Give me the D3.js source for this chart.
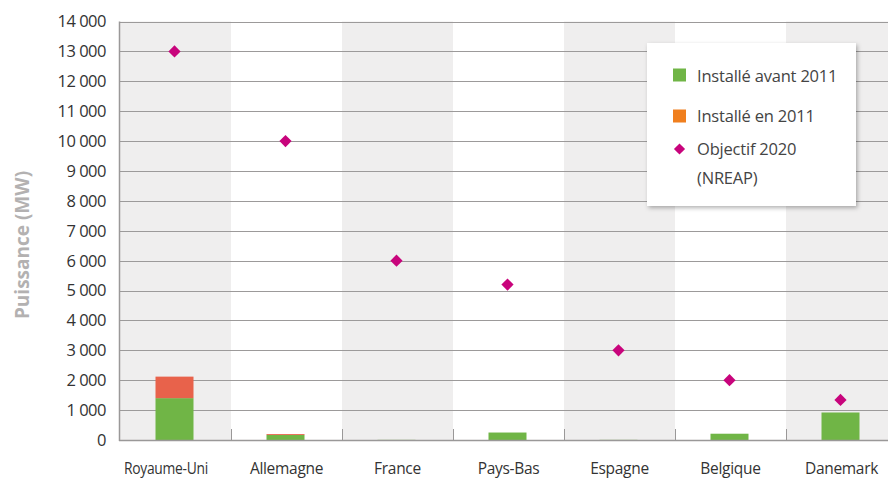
<!DOCTYPE html>
<html>
<head>
<meta charset="utf-8">
<script src="https://cdn.jsdelivr.net/npm/d3@7"></script>
<style>
  html, body { margin: 0; padding: 0; background: #fff; }
  svg { display: block; }
  text { font-family: "Open Sans", "DejaVu Sans", sans-serif; }
</style>
</head>
<body>
<svg id="chart" width="888" height="478"></svg>
<script>
// Offshore wind capacity by country (MW)
const countries = ["Royaume-Uni", "Allemagne", "France", "Pays-Bas", "Espagne", "Belgique", "Danemark"];
const installedBefore2011 = [1400, 170, 5, 250, 5, 210, 920];
const installedIn2011 = [720, 30, 0, 0, 0, 0, 0];
const target2020 = [13000, 10000, 6000, 5200, 3000, 2000, 1340];
const yTicks = [0, 1000, 2000, 3000, 4000, 5000, 6000, 7000, 8000, 9000, 10000, 11000, 12000, 13000, 14000];
const legendLabels = ["Installé avant 2011", "Installé en 2011", "Objectif 2020", "(NREAP)"];
const axisTitle = "Puissance (MW)";

const svg = d3.select("#chart");
const margin = { left: 120, top: 21.5, bottom: 440 };
const bandStep = 111;

const x = d3.scaleBand()
  .domain(countries)
  .range([margin.left, margin.left + bandStep * countries.length])
  .padding(0);

const y = d3.scaleLinear().domain([0, 14000]).range([margin.bottom, margin.top]);

// French-style thousands grouping with a space
const fmt = v => v === 0 ? "0" : d3.format(",")(v).replace(/,/g, "\u00a0");

// Alternating column backgrounds
svg.append("g").selectAll("rect")
  .data(countries)
  .join("rect")
  .attr("x", d => x(d))
  .attr("y", y(14000))
  .attr("width", x.bandwidth())
  .attr("height", y(0) - y(14000))
  .attr("fill", (d, i) => i % 2 === 0 ? "#efeeee" : "#ffffff");

// Horizontal gridlines
svg.append("g").selectAll("line")
  .data(yTicks.filter(v => v > 0))
  .join("line")
  .attr("x1", margin.left)
  .attr("x2", 888)
  .attr("y1", d => Math.round(y(d)) + 0.5)
  .attr("y2", d => Math.round(y(d)) + 0.5)
  .attr("stroke", "#9c9a9a")
  .attr("stroke-width", 1.2);

// Stacked bars
const barW = 38;
const stack = countries.map((c, i) => ({
  c, a: installedBefore2011[i], b: installedIn2011[i]
}));
const bars = svg.append("g");
bars.selectAll("rect.before")
  .data(stack)
  .join("rect")
  .attr("class", "before")
  .attr("x", d => x(d.c) + x.bandwidth() / 2 - barW / 2 - 1)
  .attr("width", barW)
  .attr("y", d => y(d.a))
  .attr("height", d => y(0) - y(d.a))
  .attr("fill", "#70b546");
bars.selectAll("rect.in2011")
  .data(stack.filter(d => d.b > 0))
  .join("rect")
  .attr("class", "in2011")
  .attr("x", d => x(d.c) + x.bandwidth() / 2 - barW / 2 - 1)
  .attr("width", barW)
  .attr("y", d => y(d.a + d.b))
  .attr("height", d => y(d.a) - y(d.a + d.b))
  .attr("fill", "#e8624b");

// Target markers (diamonds)
const diamond = d3.symbol().type(d3.symbolDiamond2).size(95);
svg.append("g").selectAll("path")
  .data(countries.map((c, i) => ({ c, v: target2020[i] })))
  .join("path")
  .attr("d", diamond)
  .attr("transform", d => `translate(${x(d.c) + x.bandwidth() / 2 - 1},${y(d.v)})`)
  .attr("fill", "#c8047c");

// Axes lines
svg.append("line")
  .attr("x1", margin.left - 0.5).attr("x2", margin.left - 0.5)
  .attr("y1", y(14000)).attr("y2", y(0) + 1)
  .attr("stroke", "#9a9898").attr("stroke-width", 1.5);
svg.append("line")
  .attr("x1", margin.left - 1).attr("x2", 888)
  .attr("y1", y(0) + 0.5).attr("y2", y(0) + 0.5)
  .attr("stroke", "#9a9898").attr("stroke-width", 1.5);

// Category boundary ticks
svg.append("g").selectAll("line")
  .data(countries.slice(1))
  .join("line")
  .attr("x1", d => x(d) + 0.5).attr("x2", d => x(d) + 0.5)
  .attr("y1", y(0) - 11).attr("y2", y(0))
  .attr("stroke", "#9a9898").attr("stroke-width", 1);

// Y tick labels
svg.append("g").selectAll("text")
  .data(yTicks)
  .join("text")
  .attr("x", 106)
  .attr("y", d => y(d))
  .attr("dy", "0.36em")
  .attr("text-anchor", "end")
  .attr("font-size", 16.5)
  .attr("letter-spacing", -0.5)
  .attr("fill", "#333")
  .text(fmt);

// X category labels (the first one is left-aligned at its band edge and condensed)
svg.append("g").selectAll("text")
  .data(countries)
  .join("text")
  .attr("x", (d, i) => i === 0 ? x(d) + 4 : x(d) + x.bandwidth() / 2)
  .attr("y", 469)
  .attr("dy", "0.35em")
  .attr("text-anchor", (d, i) => i === 0 ? "start" : "middle")
  .attr("font-size", 15.5)
  .attr("letter-spacing", -0.3)
  .attr("fill", "#333")
  .each(function (d, i) {
    if (i === 0) d3.select(this).attr("textLength", 84).attr("lengthAdjust", "spacingAndGlyphs");
  })
  .text(d => d);

// Y axis title
svg.append("text")
  .attr("transform", "translate(22,245) rotate(-90)")
  .attr("text-anchor", "middle")
  .attr("dy", "0.35em")
  .attr("font-size", 19)
  .attr("font-weight", "bold")
  .attr("fill", "#b3b1b1")
  .text(axisTitle);

// Legend
const lg = svg.append("g");
const defs = svg.append("defs");
const filt = defs.append("filter").attr("id", "shadow")
  .attr("x", "-10%").attr("y", "-10%").attr("width", "130%").attr("height", "130%");
filt.append("feDropShadow").attr("dx", 1.5).attr("dy", 2).attr("stdDeviation", 2)
  .attr("flood-color", "#000").attr("flood-opacity", 0.3);
lg.append("rect")
  .attr("x", 647).attr("y", 43).attr("width", 209).attr("height", 163)
  .attr("fill", "#fff")
  .attr("filter", "url(#shadow)");
lg.append("rect").attr("x", 673).attr("y", 68.5).attr("width", 13).attr("height", 13).attr("fill", "#70b546");
lg.append("rect").attr("x", 673).attr("y", 109.5).attr("width", 13).attr("height", 13).attr("fill", "#f07f1e");
lg.append("path").attr("d", d3.symbol().type(d3.symbolDiamond2).size(80))
  .attr("transform", "translate(679.5,149)").attr("fill", "#c8047c");
const legendY = [76, 116, 149, 178];
lg.selectAll("text.item")
  .data(legendLabels)
  .join("text")
  .attr("class", "item")
  .attr("x", 697)
  .attr("y", (d, i) => legendY[i])
  .attr("dy", "0.35em")
  .attr("font-size", 16.5)
  .attr("letter-spacing", -0.2)
  .attr("fill", "#444")
  .text(d => d);
</script>
</body>
</html>
